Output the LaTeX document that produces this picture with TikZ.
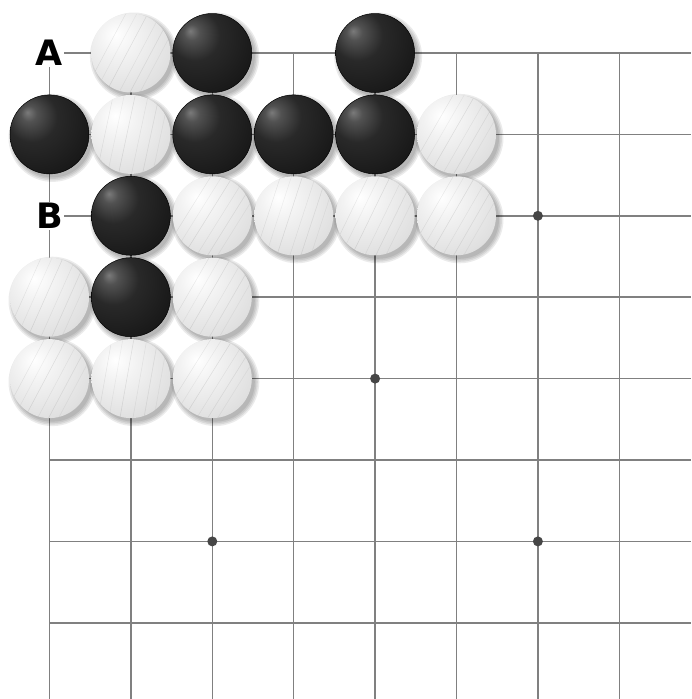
\documentclass[tikz,border=0pt]{standalone}
\usepackage{fontspec}
\newfontfamily\labelfont{DejaVu Sans}
\definecolor{gridgray}{RGB}{128,128,128}
\definecolor{stargray}{RGB}{70,70,70}
\pgfdeclareradialshading{blackstoneshade}{\pgfpoint{-14bp}{14bp}}{color(0bp)=(black!52); color(5bp)=(black!68); color(16bp)=(black!84); color(34bp)=(black!90); color(56bp)=(black!96); color(80bp)=(black)}
\pgfdeclareradialshading{whitestoneshade}{\pgfpoint{-10bp}{12bp}}{color(0bp)=(white); color(12bp)=(black!5); color(32bp)=(black!12); color(47bp)=(black!21); color(58bp)=(black!35); color(80bp)=(black!42)}
\tikzset{
  gridline/.style={draw=gridgray, line width=1.5pt},
  starpoint/.style={circle, fill=stargray, inner sep=0pt, minimum size=10pt},
  stoneshadow/.style={fill=black, opacity=0.08},
  blackstone/.style={circle, inner sep=0pt, minimum size=79pt, shading=blackstoneshade, draw=black, line width=0.5pt},
  whitestone/.style={circle, inner sep=0pt, minimum size=79pt, shading=whitestoneshade,
    path picture={\foreach \o/\g in {-26/0.07,-15/0.05,-4/0.09,9/0.06,20/0.08,30/0.05}{\draw[line width=0.55pt, black, opacity=\g] ([xshift=\o pt]path picture bounding box.center) ++(#1+180:55pt) -- ++(#1:110pt);}}},
  stonelabel/.style={fill=white, inner sep=1.2pt, text height=25.5pt, text depth=0pt,
    font=\labelfont\bfseries\fontsize{35}{35}\selectfont}
}
\def\gx#1{49.5+81.4*#1}
\def\gy#1{53+81.4*#1}
\def\blacks{2/0,4/0,0/1,2/1,3/1,4/1,1/2,1/3}
\def\whites{1/0/62,1/1/78,5/1/60,2/2/58,3/2/72,4/2/64,5/2/60,0/3/66,2/3/60,0/4/62,1/4/80,2/4/58}
\begin{document}
\begin{tikzpicture}[x=1pt,y=-1pt]
\useasboundingbox[fill=white] (0,0) rectangle (691,699);
% grid
\foreach \i in {0,...,7}{
  \draw[gridline] ({\gx{\i}},53) -- ({\gx{\i}},699);
  \draw[gridline] (49.5,{\gy{\i}}) -- (691,{\gy{\i}});
}
% star points
\foreach \c/\r [count=\n] in {6/2,4/4,2/6,6/6}
  \node[starpoint] (star\n) at ({\gx{\c}},{\gy{\r}}) {};
% shadows
\foreach \c/\r in \blacks {
  \foreach \k in {39.5,41,42.5,44}
    \fill[stoneshadow] ({\gx{\c}+3},{\gy{\r}+3.5}) circle (\k);
}
\foreach \c/\r/\a in \whites {
  \foreach \k in {39.5,41,42.5,44}
    \fill[stoneshadow] ({\gx{\c}+3},{\gy{\r}+3.5}) circle (\k);
}
% stones
\foreach \c/\r in \blacks
  \node[blackstone] (b-\c-\r) at ({\gx{\c}},{\gy{\r}}) {};
\foreach \c/\r/\a in \whites
  \node[whitestone=\a] (w-\c-\r) at ({\gx{\c}},{\gy{\r}}) {};
% labels
\node[stonelabel] (labelA) at ({\gx{0}},{\gy{0}}) {A};
\node[stonelabel] (labelB) at ({\gx{0}},{\gy{2}}) {B};
\end{tikzpicture}
\end{document}
